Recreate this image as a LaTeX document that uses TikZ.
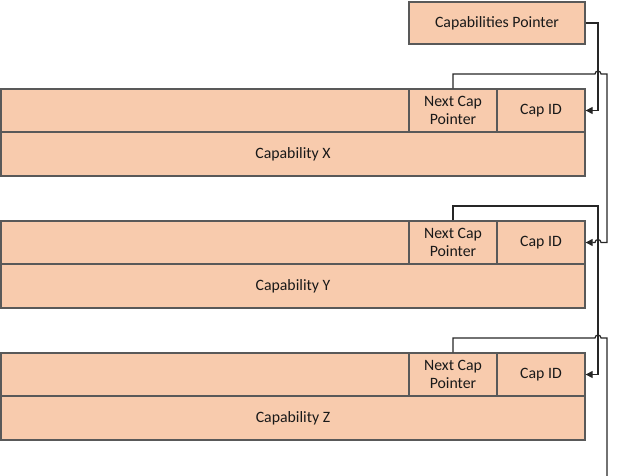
\documentclass[tikz,border=0pt]{standalone}
\usepackage{fontspec}
\setmainfont{Carlito}
\usetikzlibrary{arrows.meta}
\definecolor{boxfill}{HTML}{F8CBAD}
\definecolor{boxline}{HTML}{595959}
\definecolor{wire}{HTML}{262626}
\tikzset{
  cell/.style={draw=boxline, fill=boxfill, line width=1.3bp, inner sep=0pt, align=center,
    text=black!90, font=\fontsize{15.8bp}{18bp}\selectfont},
  wirestyle/.style={draw=wire, line width=1.2bp},
  arr/.style={-{Triangle[length=7bp,width=7bp]}},
}
\newcommand{\capblock}[2]{%
  % #1 = name suffix, #2 = top y
  \node[cell, minimum width=408bp, minimum height=43bp] (empty#1) at (205,#2+21.5) {};
  \node[cell, minimum width=88bp, minimum height=43bp] (ncp#1) at (453,#2+21.5) {Next Cap\\Pointer};
  \node[cell, minimum width=88bp, minimum height=43bp] (cid#1) at (541,#2+21.5) {Cap ID};
}
\begin{document}
\begin{tikzpicture}[x=1bp,y=-1bp]
\useasboundingbox (0,0) rectangle (618,476);
\node[cell, minimum width=176bp, minimum height=42bp] (cp) at (497,23) {Capabilities Pointer};

\capblock{X}{89}
\node[cell, minimum width=584bp, minimum height=44bp] (capX) at (293,154) {Capability X};
\capblock{Y}{221}
\node[cell, minimum width=584bp, minimum height=44bp] (capY) at (293,286) {Capability Y};
\capblock{Z}{353}
\node[cell, minimum width=584bp, minimum height=44bp] (capZ) at (293,418) {Capability Z};

\coordinate (endZ) at (607,476);

% Capabilities Pointer -> Cap ID of X
\draw[wirestyle, arr] (cp.east) -- (598,23) -- (598,110.5) -- (cidX.east);
% X -> Y
\draw[wirestyle, arr] (ncpX.north) -- (453,74) -- (595,74)
  arc[start angle=180, end angle=0, radius=3bp] -- (607,74) -- (607,242.5) -- (601,242.5)
  arc[start angle=0, end angle=180, radius=3bp] -- (cidY.east);
% Y -> Z
\draw[wirestyle, arr] (ncpY.north) -- (453,206) -- (598,206) -- (598,374.5) -- (cidZ.east);
% Z -> next
\draw[wirestyle] (ncpZ.north) -- (453,338) -- (595,338)
  arc[start angle=180, end angle=0, radius=3bp] -- (607,338) -- (endZ);
\end{tikzpicture}
\end{document}
